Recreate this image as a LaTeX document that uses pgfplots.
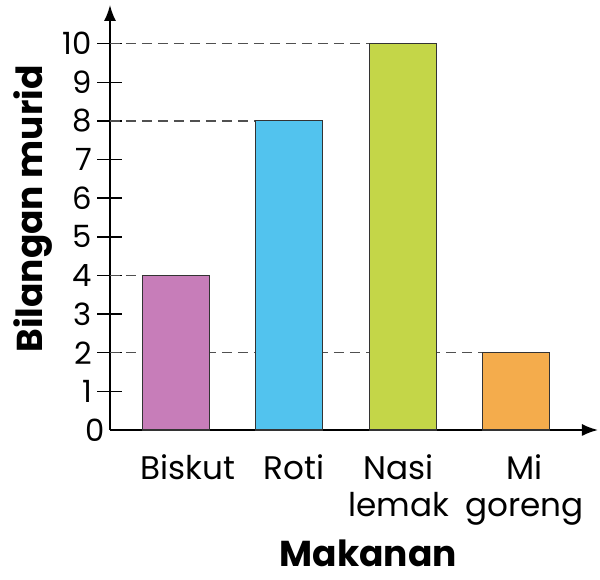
\documentclass[border=0pt]{standalone}
\usepackage{fontspec}
\setmainfont{Poppins}
\usepackage{pgfplots}
\pgfplotsset{compat=1.18}
\usetikzlibrary{arrows.meta}
\definecolor{cBis}{RGB}{199,125,185}
\definecolor{cRot}{RGB}{82,195,238}
\definecolor{cNas}{RGB}{196,214,72}
\definecolor{cMi}{RGB}{244,172,76}
\definecolor{cDash}{RGB}{80,80,80}
\begin{document}
\begin{tikzpicture}
\useasboundingbox (-82.5pt,-112.5pt) rectangle (367.5pt,322.5pt);
\begin{axis}[
  at={(0,0)}, anchor=south west,
  scale only axis, width=366pt, height=318.75pt,
  xmin=0.42, xmax=4.72, ymin=0, ymax=11,
  axis lines=left,
  axis line style={line width=1.3pt, -{Latex[length=12pt,width=9pt]}},
  ytick={1,2,3,4,5,6,7,8,9,10},
  extra y ticks={0},
  extra y tick style={major tick length=0pt},
  major tick length=18.75pt, tick align=center,
  tick style={line width=1.1pt, black},
  /pgf/number format/assume math mode=true,
  yticklabel style={font=\fontsize{23}{26}\selectfont, anchor=east, inner sep=0pt, xshift=-4pt},
  xtick={1,2,3,4},
  xticklabels={\hspace*{18pt}Biskut,\hspace*{7pt}Roti,Nasi\hspace*{6pt}\\lemak\hspace*{6pt},\hspace*{12pt}Mi\\\hspace*{12pt}goreng},
  x tick style={draw=none},
  xticklabel style={font=\fontsize{24.5}{28}\selectfont, align=center, anchor=north, inner sep=0pt, yshift=-9pt},
  xlabel={Makanan},
  xlabel style={font=\fontsize{27}{30}\selectfont\bfseries, inner sep=0pt, at={(axis description cs:0.529,-0.322)}, anchor=base},
  ylabel={Bilangan murid},
  ylabel style={font=\fontsize{27}{30}\selectfont\bfseries, at={(axis description cs:-0.139,0.52)}, anchor=base, rotate=0},
  clip=false,
]
% dashed guide lines
\addplot[cDash, line width=1pt, dash pattern=on 7.5pt off 4.5pt] coordinates {(0.42,10) (2.705,10)};
\addplot[cDash, line width=1pt, dash pattern=on 7.5pt off 4.5pt] coordinates {(0.42,8) (1.705,8)};
\addplot[cDash, line width=1pt, dash pattern=on 7.5pt off 4.5pt] coordinates {(0.42,4) (0.705,4)};
\addplot[cDash, line width=1pt, dash pattern=on 7.5pt off 4.5pt] coordinates {(0.42,2) (3.705,2)};
% bars
\addplot[ybar, bar width=0.59, fill=cBis, draw=black!80, line width=0.8pt] coordinates {(1,4)};
\addplot[ybar, bar width=0.59, fill=cRot, draw=black!80, line width=0.8pt] coordinates {(2,8)};
\addplot[ybar, bar width=0.59, fill=cNas, draw=black!80, line width=0.8pt] coordinates {(3,10)};
\addplot[ybar, bar width=0.59, fill=cMi, draw=black!80, line width=0.8pt] coordinates {(4,2)};
\end{axis}
\end{tikzpicture}
\end{document}
